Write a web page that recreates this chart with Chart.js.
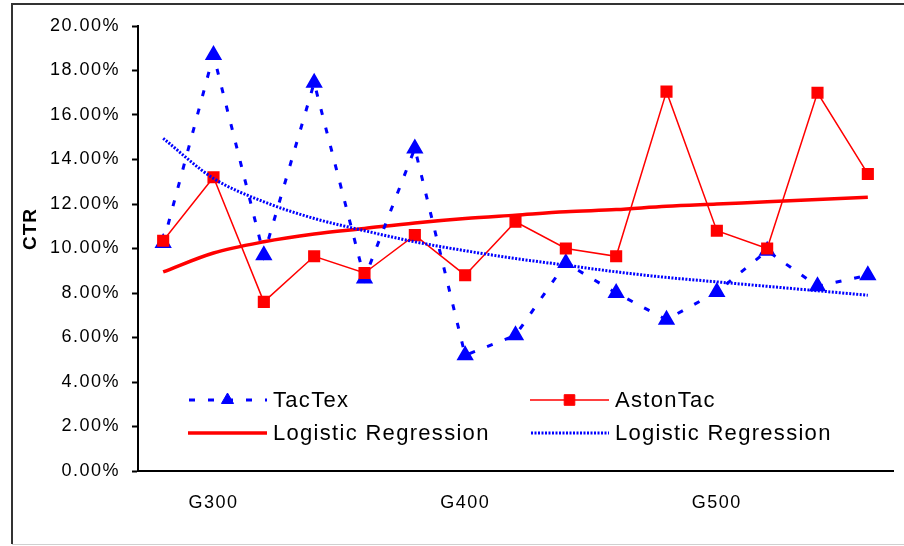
<!DOCTYPE html>
<html>
<head>
<meta charset="utf-8">
<script src="https://cdn.jsdelivr.net/npm/chart.js@4"></script>
<style>
  html, body { margin: 0; padding: 0; background: #fff; }
  #ctrChart { display: block; }
</style>
</head>
<body>
<canvas id="ctrChart" width="904" height="546"></canvas>
<script>
// Kategorien (nur jede 5. wird beschriftet)
const categories = ['G280', 'G300', 'G320', 'G340', 'G360', 'G380', 'G400', 'G420',
                    'G440', 'G460', 'G480', 'G500', 'G520', 'G540', 'G560'];
const shownLabels = ['G300', 'G400', 'G500'];

// CTR-Werte in Prozent
const tacTex   = [10.25, 18.7, 9.7, 17.45, 8.65, 14.5, 5.2, 6.1, 9.35, 8.0, 6.8, 8.05, 9.9, 8.3, 8.8];
const astonTac = [10.35, 13.2, 7.6, 9.65, 8.9, 10.6, 8.8, 11.2, 10.0, 9.65, 17.05, 10.8, 10.0, 17.0, 13.35];

// Trendlinien
const astonTrend  = [8.95, 9.8, 10.3, 10.65, 10.9, 11.15, 11.35, 11.5, 11.65, 11.75, 11.9, 12.0, 12.1, 12.2, 12.3];
const tacTexTrend = [14.95, 13.15, 12.1, 11.35, 10.8, 10.3, 9.9, 9.55, 9.25, 8.95, 8.7, 8.5, 8.3, 8.1, 7.9];

const yTicks = { min: 0, max: 20, step: 2 };
const yTitle = 'CTR';

const FONT = '"Liberation Sans", Arial, sans-serif';

// Rahmen, Achsentitel und Legende im Excel-Stil
const excelPlugin = {
    id: 'excelStyle',
    beforeLayout(chart) {
        chart.ctx.letterSpacing = '1.5px';
    },
    beforeDraw(chart) {
        const ctx = chart.ctx;
        ctx.save();
        ctx.fillStyle = '#fff';
        ctx.fillRect(0, 0, chart.width, chart.height);
        ctx.strokeStyle = '#333';
        ctx.lineWidth = 2;
        ctx.beginPath();
        ctx.moveTo(chart.width, 4);
        ctx.lineTo(12, 4);
        ctx.lineTo(12, chart.height - 2);
        ctx.stroke();
        ctx.strokeStyle = '#d0d0d0';
        ctx.lineWidth = 1;
        ctx.beginPath();
        ctx.moveTo(12, chart.height - 1.5);
        ctx.lineTo(chart.width, chart.height - 1.5);
        ctx.stroke();
        ctx.restore();
        chart.ctx.letterSpacing = '1.5px';
    },
    afterDraw(chart) {
        const ctx = chart.ctx;
        ctx.save();
        // y-Achsentitel
        ctx.translate(31, 229);
        ctx.rotate(-Math.PI / 2);
        ctx.font = 'bold 19px ' + FONT;
        ctx.letterSpacing = '1px';
        ctx.fillStyle = '#000';
        ctx.textAlign = 'center';
        ctx.textBaseline = 'middle';
        ctx.fillText(yTitle, 0, 0);
        ctx.restore();

        // Legende
        const entries = [
            { ds: 0, x: 188, y: 400 },
            { ds: 1, x: 530, y: 400 },
            { ds: 2, x: 188, y: 433 },
            { ds: 3, x: 530, y: 433 }
        ];
        const lineLen = 79;
        entries.forEach(e => {
            const ds = chart.data.datasets[e.ds];
            ctx.save();
            ctx.strokeStyle = ds.borderColor;
            ctx.lineWidth = ds.borderWidth;
            ctx.setLineDash(ds.borderDash || []);
            ctx.lineDashOffset = ds.borderDash ? -1 : 0;
            ctx.beginPath();
            ctx.moveTo(e.x, e.y);
            ctx.lineTo(e.x + lineLen, e.y);
            ctx.stroke();
            if (ds.pointRadius > 0) {
                ctx.setLineDash([]);
                ctx.fillStyle = ds.pointBackgroundColor;
                ctx.strokeStyle = ds.pointBorderColor;
                ctx.lineWidth = 1;
                Chart.helpers.drawPoint(ctx, {
                    pointStyle: ds.pointStyle,
                    radius: ds.pointRadius,
                    borderWidth: 1,
                    rotation: 0
                }, e.x + lineLen / 2, e.y);
            }
            ctx.font = '22px ' + FONT;
            ctx.letterSpacing = '1.3px';
            ctx.fillStyle = '#000';
            ctx.textAlign = 'left';
            ctx.textBaseline = 'middle';
            ctx.fillText(ds.label, e.x + lineLen + 6, e.y + 1);
            ctx.restore();
        });
    }
};

const ctx = document.getElementById('ctrChart').getContext('2d');
const ctrChart = new Chart(ctx, {
    type: 'line',
    data: {
        labels: categories,
        datasets: [{
            label: 'TacTex',
            data: tacTex,
            borderColor: '#0000ff',
            backgroundColor: '#0000ff',
            borderWidth: 3,
            borderDash: [6, 13],
            pointStyle: 'triangle',
            pointRadius: 7,
            pointBackgroundColor: '#0000ff',
            pointBorderColor: '#0000ff',
            tension: 0,
            fill: false,
            order: 2
        }, {
            label: 'AstonTac',
            data: astonTac,
            borderColor: '#ff0000',
            backgroundColor: '#ff0000',
            borderWidth: 1.5,
            pointStyle: 'rect',
            pointRadius: 7.5,
            pointBackgroundColor: '#ff0000',
            pointBorderColor: '#ff0000',
            tension: 0,
            fill: false,
            order: 1
        }, {
            label: 'Logistic Regression',
            data: astonTrend,
            borderColor: '#ff0000',
            borderWidth: 3.5,
            pointRadius: 0,
            cubicInterpolationMode: 'monotone',
            fill: false,
            order: 3
        }, {
            label: 'Logistic Regression',
            data: tacTexTrend,
            borderColor: '#0000ff',
            borderWidth: 3,
            borderDash: [2, 1.5],
            pointRadius: 0,
            cubicInterpolationMode: 'monotone',
            fill: false,
            order: 0
        }]
    },
    options: {
        responsive: false,
        animation: false,
        layout: {
            padding: { left: 12, right: 11, top: 26, bottom: 0 }
        },
        plugins: {
            legend: { display: false },
            tooltip: { enabled: false }
        },
        scales: {
            x: {
                offset: true,
                grid: { display: false, drawTicks: false },
                border: { display: true, color: '#000', width: 2 },
                ticks: {
                    autoSkip: false,
                    maxRotation: 0,
                    padding: 21,
                    color: '#000',
                    font: { family: FONT, size: 18 },
                    callback: function(value) {
                        const label = this.getLabelForValue(value);
                        return shownLabels.includes(label) ? label : '';
                    }
                },
                afterFit(scale) { scale.height = 75; }
            },
            y: {
                min: yTicks.min,
                max: yTicks.max,
                grid: {
                    drawOnChartArea: false,
                    drawTicks: true,
                    tickLength: 6,
                    tickColor: '#000',
                    tickWidth: 2
                },
                border: { display: true, color: '#000', width: 2 },
                ticks: {
                    stepSize: yTicks.step,
                    padding: 12,
                    color: '#000',
                    font: { family: FONT, size: 18 },
                    callback: value => value.toFixed(2) + '%'
                },
                afterFit(scale) { scale.width = 126; }
            }
        }
    },
    plugins: [excelPlugin]
});
</script>
</body>
</html>
